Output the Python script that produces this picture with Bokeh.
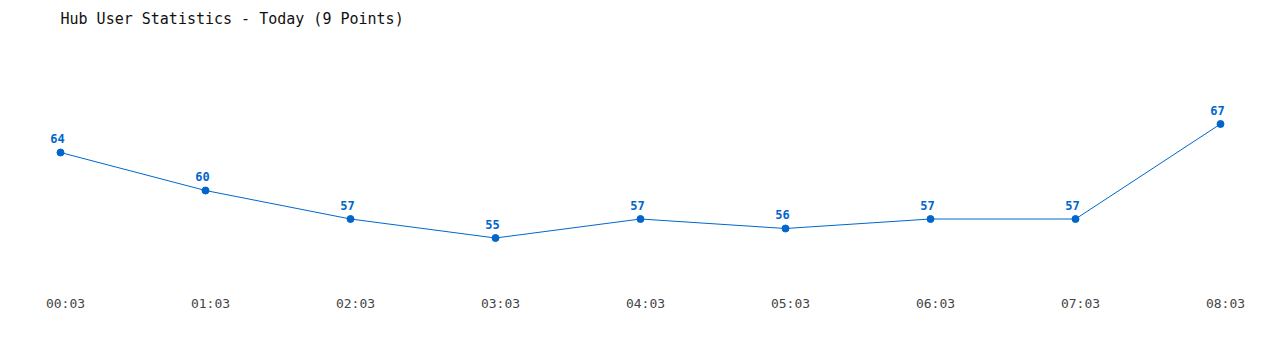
from bokeh.plotting import figure
from bokeh.models import Range1d, ColumnDataSource, Label
from bokeh.core.properties import value
from bokeh.embed import file_html
from bokeh.resources import INLINE

times = ["00:03", "01:03", "02:03", "03:03", "04:03", "05:03", "06:03", "07:03", "08:03"]
users = [64, 60, 57, 55, 57, 56, 57, 57, 67]
title_text = "Hub User Statistics - Today (9 Points)"

W, H = 1280, 350
xs = list(range(len(times)))
y_top = 80
y_bottom = y_top - H / 9.5
src = ColumnDataSource(dict(x=xs, y=users, lbl=[str(v) for v in users], t=times,
                            yb=[y_bottom] * len(times)))

p = figure(width=W, height=H, output_backend="svg", toolbar_location=None,
           x_range=Range1d(-60 / 145, -60 / 145 + W / 145),
           y_range=Range1d(y_bottom, y_top),
           min_border=0, outline_line_color=None)
p.axis.visible = False
p.grid.visible = False
p.background_fill_color = "white"
p.border_fill_color = "white"

blue = "#0066cc"
p.line("x", "y", source=src, line_color=blue, line_width=1)
p.scatter("x", "y", source=src, size=7, fill_color=blue, line_color=blue)
p.text("x", "y", text="lbl", source=src, x_offset=-3, y_offset=-14,
       text_align="center", text_baseline="middle", text_color=blue,
       text_font=value("DejaVu Sans Mono"), text_font_size="12px", text_font_style="bold")

p.text("x", "yb", text="t", source=src, x_offset=5, y_offset=-47,
       text_align="center", text_baseline="middle", text_color="#444444",
       text_font=value("DejaVu Sans Mono"), text_font_size="13px")

p.add_layout(Label(x=60, y=H - 18, x_units="screen", y_units="screen", text=title_text,
                   text_font="DejaVu Sans Mono", text_font_size="15px", text_color="#111111",
                   text_baseline="middle", text_align="left"))

open("out.html", "w").write(file_html(p, INLINE))
